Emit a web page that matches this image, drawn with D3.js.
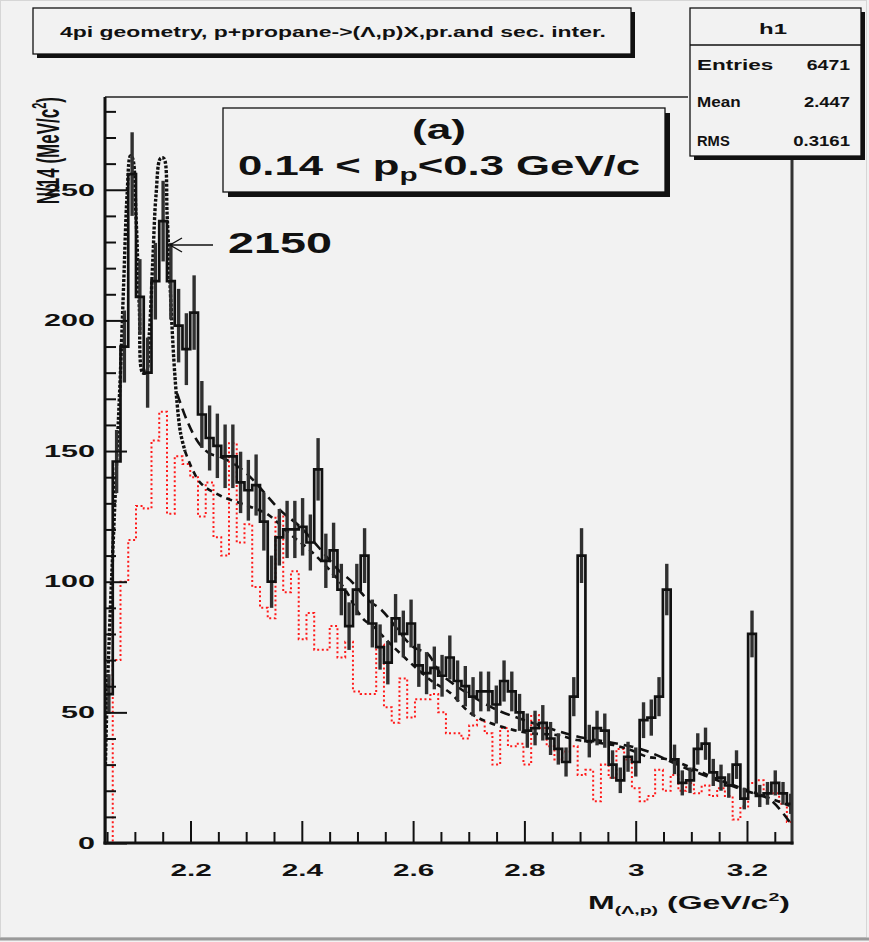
<!DOCTYPE html>
<html>
<head>
<meta charset="utf-8">
<script src="https://cdn.jsdelivr.net/npm/d3@7"></script>
<style>
  html, body { margin: 0; padding: 0; background: #f2f2f2; }
  svg { display: block; }
  text { font-family: "Liberation Sans", Arial, Helvetica, sans-serif; }
</style>
</head>
<body>
<svg id="chart" width="869" height="942"></svg>
<script>
// ---- histogram binning (GeV) ----
const histLow = 2.0463;
const binWidth = 0.013925;

// h1: counts per 14 MeV bin, M(Lambda,p)
const counts = [
  57, 146, 190, 256, 209, 180, 215, 238, 215, 198,
  189, 203, 164, 155, 152, 148, 148, 138, 135, 137,
  123, 100, 117, 120, 120, 121, 115, 143, 108, 112,
  97, 83, 97, 110, 84, 75, 69, 86, 80, 84,
  68, 65, 67, 64, 71, 62, 60, 56, 58, 58,
  53, 62, 58, 50, 43, 44, 46, 40, 36, 31,
  56, 110, 39, 44, 43, 30, 24, 33, 31, 47,
  48, 56, 97, 32, 23, 24, 36, 38, 27, 25,
  22, 30, 17, 80, 18, 19, 23, 19, 15
];

// primary interactions only (red dotted)
const primary = [
  0, 70, 100, 116, 129, 128, 154, 165, 126, 148,
  145, 140, 125, 138, 117, 110, 153, 115, 122, 98,
  90, 86, 125, 96, 104, 78, 88, 74, 74, 83,
  71, 77, 58, 57, 57, 76, 52, 46, 63, 48,
  55, 55, 57, 50, 42, 42, 40, 45, 47, 42,
  30, 44, 37, 38, 30, 49, 44, 37, 32, 35,
  37, 26, 28, 16, 30, 25, 36, 32, 21, 16,
  18, 28, 20, 26, 20, 23, 19, 22, 18, 21,
  18, 9, 14, 23, 24, 20, 19, 15, 8
];

// fit with the two narrow states near threshold
const peakFitX = [2.0470, 2.0500, 2.0560, 2.0620, 2.0680, 2.0740, 2.0800, 2.0860, 2.0920, 2.0960,
                  2.1020, 2.1080, 2.1140, 2.1200, 2.1260, 2.1320, 2.1380, 2.1460, 2.1520, 2.1580,
                  2.1640, 2.1700, 2.1760, 2.1820, 2.1900];
const peakFitY = [30, 55, 90, 120, 150, 180, 215, 248, 263, 262,
                  240, 205, 180, 180, 195, 222, 248, 262, 262, 240,
                  210, 185, 168, 157, 150];

// background of the full fit
const bgFitX = [2.190, 2.217, 2.253, 2.303, 2.337, 2.380, 2.415, 2.456, 2.481, 2.499,
                2.514, 2.528, 2.560, 2.631, 2.667, 2.703, 2.739, 2.781, 2.811, 2.859,
                2.895, 2.960, 2.991, 3.021, 3.062, 3.152, 3.183, 3.230, 3.280];
const bgFitY = [150, 138, 133, 129, 126, 118, 112, 103, 96, 89,
                85, 83, 76, 62.4, 57.4, 49.7, 45.9, 43.2, 42, 41.3,
                39.4, 37.5, 35.6, 33, 31.8, 24, 21.5, 18, 14];

// phase-space background
const phaseX = [2.176, 2.193, 2.215, 2.235, 2.253, 2.294, 2.361, 2.397, 2.469, 2.487,
                2.519, 2.544, 2.600, 2.625, 2.649, 2.667, 2.700, 2.750, 2.800, 2.850,
                2.900, 2.960, 3.014, 3.086, 3.122, 3.193, 3.242, 3.278];
const phaseY = [172, 162, 153, 149, 147.8, 142.7, 127.4, 121, 103.8, 100.6,
                93, 89, 75, 72.7, 65, 61.7, 57, 51, 47, 43.5,
                40.5, 38.3, 35.6, 29, 26, 20.3, 16.5, 7.6];

const xMajor = [2.2, 2.4, 2.6, 2.8, 3.0, 3.2];
const xTickLabels = ["2.2", "2.4", "2.6", "2.8", "3", "3.2"];
const yMajor = [0, 50, 100, 150, 200, 250];

const stats = [["Entries", "6471"], ["Mean", "2.447"], ["RMS", "0.3161"]];

// ---- layout ----
const svg = d3.select("#chart");
const frame = { left: 105, top: 97, right: 792, bottom: 843 };
const x = d3.scaleLinear().domain([2.0463, 3.2809]).range([frame.left, frame.right]);
const y = d3.scaleLinear().domain([0, 285.5]).range([frame.bottom, frame.top]);

svg.append("rect").attr("width", 869).attr("height", 942).attr("fill", "#f2f2f2");
svg.append("rect").attr("x", 0.5).attr("y", 0.5).attr("width", 866).attr("height", 937)
  .attr("fill", "none").attr("stroke", "#d6d6d6").attr("stroke-width", 1);
svg.append("line").attr("x1", 0).attr("x2", 869).attr("y1", 939).attr("y2", 939)
  .attr("stroke", "#9a9a9a").attr("stroke-width", 3);

svg.append("defs").append("clipPath").attr("id", "plotClip")
  .append("rect").attr("x", frame.left).attr("y", frame.top)
  .attr("width", frame.right - frame.left).attr("height", frame.bottom - frame.top);

const plot = svg.append("g").attr("clip-path", "url(#plotClip)");

const edges = counts.map((_, i) => histLow + i * binWidth);

// red dotted histogram
const stepLine = d3.line().x(d => x(d[0])).y(d => y(d[1])).curve(d3.curveStepAfter);
const redPts = [[histLow, 0]].concat(primary.map((v, i) => [edges[i], v]));
redPts.push([histLow + primary.length * binWidth, primary[primary.length - 1]]);
plot.append("path").attr("d", stepLine(redPts))
  .attr("fill", "none").attr("stroke", "#ff1a1a").attr("stroke-width", 2)
  .attr("stroke-dasharray", "2,2.6");

// fit curves
const smooth = d3.line().x(d => x(d[0])).y(d => y(d[1])).curve(d3.curveCatmullRom);
plot.append("path").attr("d", smooth(phaseX.map((v, i) => [v, phaseY[i]])))
  .attr("fill", "none").attr("stroke", "#111").attr("stroke-width", 2.6)
  .attr("stroke-dasharray", "10,6");
plot.append("path").attr("d", smooth(bgFitX.map((v, i) => [v, bgFitY[i]])))
  .attr("fill", "none").attr("stroke", "#111").attr("stroke-width", 2.6)
  .attr("stroke-dasharray", "6,5");
plot.append("path").attr("d", smooth(peakFitX.map((v, i) => [v, peakFitY[i]])))
  .attr("fill", "none").attr("stroke", "#111").attr("stroke-width", 3.4)
  .attr("stroke-dasharray", "3,1.6");

// black histogram with errors
const blkPts = [[histLow, 0]].concat(counts.map((v, i) => [edges[i], v]));
blkPts.push([histLow + counts.length * binWidth, counts[counts.length - 1]]);
plot.append("g").selectAll("line").data(counts).join("line")
  .attr("x1", (d, i) => x(edges[i] + binWidth / 2))
  .attr("x2", (d, i) => x(edges[i] + binWidth / 2))
  .attr("y1", d => y(d + Math.sqrt(d)))
  .attr("y2", d => y(Math.max(0, d - Math.sqrt(d))))
  .attr("stroke", "#303030").attr("stroke-width", 3.4);
plot.append("path").attr("d", stepLine(blkPts))
  .attr("fill", "none").attr("stroke", "#111").attr("stroke-width", 2.7);

// ---- axes ----
const xMinor = d3.range(41).map(i => 2.05 + i * 0.05).filter(v => v <= 3.28 && !xMajor.some(m => Math.abs(m - v) < 1e-6));
const yMinor = d3.range(0, 290, 10).filter(v => v % 50 !== 0);

const xAxis = svg.append("g").attr("transform", `translate(0,${frame.bottom})`)
  .call(d3.axisBottom(x).tickValues(xMajor).tickSize(-22).tickPadding(21)
    .tickFormat((d, i) => xTickLabels[i]));
svg.append("g").attr("transform", `translate(0,${frame.bottom})`)
  .call(d3.axisBottom(x).tickValues(xMinor).tickSize(-11).tickFormat(""));
const yAxis = svg.append("g").attr("transform", `translate(${frame.left},0)`)
  .call(d3.axisLeft(y).tickValues(yMajor).tickSize(-22).tickPadding(10 / 1.85));
svg.append("g").attr("transform", `translate(${frame.left},0)`)
  .call(d3.axisLeft(y).tickValues(yMinor).tickSize(-11).tickFormat(""));

svg.selectAll(".domain").remove();
svg.selectAll(".tick line").attr("stroke", "#111").attr("stroke-width", 2);
svg.selectAll(".tick text").attr("font-size", 16.5).attr("font-weight", "bold")
  .attr("fill", "#111").attr("font-family", "Liberation Sans, Arial, sans-serif");
xAxis.selectAll(".tick text").attr("transform", "scale(1.8,1)");
yAxis.selectAll(".tick text").attr("transform", "scale(1.85,1)");

// frame
svg.append("line").attr("x1", frame.left).attr("x2", 688).attr("y1", frame.top).attr("y2", frame.top)
  .attr("stroke", "#222").attr("stroke-width", 1.5);
svg.append("line").attr("x1", frame.right).attr("x2", frame.right).attr("y1", frame.top).attr("y2", frame.bottom + 1.5)
  .attr("stroke", "#333").attr("stroke-width", 3);
svg.append("line").attr("x1", frame.left).attr("x2", frame.left).attr("y1", frame.top).attr("y2", frame.bottom + 1.5)
  .attr("stroke", "#111").attr("stroke-width", 3);
svg.append("line").attr("x1", frame.left - 1.5).attr("x2", frame.right + 1.5).attr("y1", frame.bottom).attr("y2", frame.bottom)
  .attr("stroke", "#111").attr("stroke-width", 3);

// helper: stretched text to a fixed width
function stretchText(g, str, px, py, size, width, anchor, weight) {
  return g.append("text").attr("x", px).attr("y", py).attr("font-size", size)
    .attr("font-weight", weight || "bold").attr("fill", "#111")
    .attr("text-anchor", anchor || "start")
    .attr("textLength", width).attr("lengthAdjust", "spacingAndGlyphs")
    .text(str);
}

// boxes with shadow
function shadowBox(x0, y0, w, h, sh) {
  svg.append("rect").attr("x", x0 + sh).attr("y", y0 + sh).attr("width", w).attr("height", h).attr("fill", "#111");
  svg.append("rect").attr("x", x0).attr("y", y0).attr("width", w).attr("height", h)
    .attr("fill", "#f2f2f2").attr("stroke", "#111").attr("stroke-width", 1.3);
}

// title
shadowBox(33, 8, 598, 46, 4);
stretchText(svg, "4pi geometry, p+propane->(\u039b,p)X,pr.and sec. inter.", 60, 37, 14, 546, "start", "bold");

// stats box
shadowBox(690, 8, 171, 148, 4);
svg.append("line").attr("x1", 690).attr("x2", 861).attr("y1", 45).attr("y2", 45).attr("stroke", "#111").attr("stroke-width", 1.3);
stretchText(svg, "h1", 773, 34, 14, 28, "middle");
const rowY = [70, 107, 146];
stats.forEach((r, i) => {
  stretchText(svg, r[0], 697, rowY[i], 15.5, r[0].length * 10.9, "start");
  stretchText(svg, r[1], 850, rowY[i], 15.5, r[1].length * 10.8 - (r[1].includes(".") ? 8 : 0), "end");
});

// (a) label box
shadowBox(223, 108, 442, 84, 5);
stretchText(svg, "(a)", 439, 139, 28, 54, "middle");
const ptxt = svg.append("text").attr("x", 238).attr("y", 175).attr("font-size", 28)
  .attr("font-weight", "bold").attr("fill", "#111");
ptxt.append("tspan").text("0.14 < p");
ptxt.append("tspan").attr("font-size", 19).attr("dy", 6).text("p");
ptxt.append("tspan").attr("dy", -6).text("<0.3 GeV/c");
ptxt.attr("textLength", 402).attr("lengthAdjust", "spacingAndGlyphs");

// 2150 marker
svg.append("line").attr("x1", 213).attr("x2", 170).attr("y1", 245).attr("y2", 245).attr("stroke", "#111").attr("stroke-width", 1.4);
svg.append("path").attr("d", "M182,238 L170,245 L182,252").attr("fill", "none").attr("stroke", "#111").attr("stroke-width", 1.4);
stretchText(svg, "2150", 228, 253, 29.5, 104, "start");

// axis titles
const xt = svg.append("text").attr("x", 790).attr("y", 909).attr("text-anchor", "end")
  .attr("font-size", 18).attr("font-weight", "bold").attr("fill", "#111");
xt.append("tspan").text("M");
xt.append("tspan").attr("font-size", 11).attr("dy", 5).text("(\u039b,p)");
xt.append("tspan").attr("dy", -5).text(" (GeV/c");
xt.append("tspan").attr("font-size", 11).attr("dy", -8).text("2");
xt.append("tspan").attr("dy", 8).text(")");
xt.attr("textLength", 202).attr("lengthAdjust", "spacingAndGlyphs");

const yt = svg.append("g").attr("transform", "translate(59,97) scale(1.8,1) rotate(-90)")
  .append("text").attr("text-anchor", "end").attr("font-size", 17).attr("font-weight", "bold").attr("fill", "#111");
yt.append("tspan").text("N/14 (MeV/c");
yt.append("tspan").attr("font-size", 11).attr("dy", -7).text("2");
yt.append("tspan").attr("dy", 7).text(")");
</script>
</body>
</html>
